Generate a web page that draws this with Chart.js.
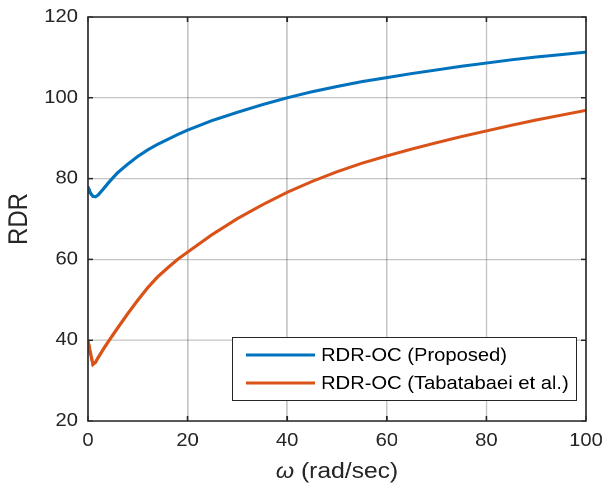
<!DOCTYPE html>
<html>
<head>
<meta charset="utf-8">
<script src="https://cdn.jsdelivr.net/npm/chart.js@4.4.1/dist/chart.umd.min.js"></script>
<style>
  html, body { margin: 0; padding: 0; background: #ffffff; overflow: hidden; }
  #wrap { width: 605px; height: 491px; overflow: hidden; }
  /* the figure is laid out on a 540px-wide canvas and widened to 605px */
  #c { transform: scaleX(1.1204); transform-origin: 0 0; display: block; }
</style>
</head>
<body>
<div id="wrap"><canvas id="c" width="540" height="491"></canvas></div>
<script>
// angular frequency samples (rad/sec)
const omega = [0, 0.5, 1, 1.5, 2, 3, 4, 5, 6, 8, 10, 12, 14, 16, 18, 20, 25, 30, 35, 40, 45, 50, 55, 60, 65, 70, 75, 80, 85, 90, 95, 100];

// RDR of the proposed overcurrent scheme
const rdrProposed = [78, 76.4, 75.6, 75.5, 75.9, 77.3, 78.8, 80.2, 81.5, 83.6, 85.5, 87.1, 88.5, 89.7, 90.9, 92, 94.4, 96.4, 98.3, 100, 101.5, 102.8, 104, 105, 106, 106.9, 107.8, 108.6, 109.4, 110.1, 110.7, 111.3];

// RDR of the reference scheme (Tabatabaei et al.)
const rdrTabatabaei = [40, 36.8, 34, 34.5, 35.6, 37.6, 39.5, 41.3, 43.1, 46.6, 49.9, 53, 55.7, 57.9, 60, 61.8, 66.2, 70.1, 73.5, 76.6, 79.3, 81.7, 83.8, 85.6, 87.3, 88.9, 90.4, 91.8, 93.2, 94.5, 95.7, 96.9];

const seriesLabels = ['RDR-OC (Proposed)', 'RDR-OC (Tabatabaei et al.)'];
const xTicks = [0, 20, 40, 60, 80, 100];
const yTicks = [20, 40, 60, 80, 100, 120];
const xTitleSymbol = 'ω';
const xTitleUnit = ' (rad/sec)';

const FONT = '"Liberation Sans", Arial, Helvetica, sans-serif';
const INK = '#262626';

const toPoints = ys => omega.map((x, i) => ({ x: x, y: ys[i] }));

// box frame, inward tick marks, x-axis title and the legend panel
const framePlugin = {
  id: 'frame',
  afterDraw(chart) {
    const ctx = chart.ctx;
    const a = chart.chartArea;
    const xs = chart.scales.x, ys = chart.scales.y;
    ctx.save();
    ctx.strokeStyle = INK;
    ctx.lineWidth = 1.5;
    ctx.strokeRect(a.left, a.top, a.right - a.left, a.bottom - a.top);
    ctx.beginPath();
    xTicks.forEach(v => {
      const px = xs.getPixelForValue(v);
      ctx.moveTo(px, a.bottom); ctx.lineTo(px, a.bottom - 5);
      ctx.moveTo(px, a.top); ctx.lineTo(px, a.top + 5);
    });
    yTicks.forEach(v => {
      const py = ys.getPixelForValue(v);
      ctx.moveTo(a.left, py); ctx.lineTo(a.left + 4.5, py);
      ctx.moveTo(a.right, py); ctx.lineTo(a.right - 4.5, py);
    });
    ctx.stroke();

    // x-axis title with an italic omega
    const fSym = 'italic 21px ' + FONT, fUnit = '22px ' + FONT;
    ctx.font = fSym; const w1 = ctx.measureText(xTitleSymbol).width;
    ctx.font = fUnit; const w2 = ctx.measureText(xTitleUnit).width;
    const tx = (a.left + a.right) / 2 - (w1 + w2) / 2, ty = 472;
    ctx.fillStyle = INK;
    ctx.textBaseline = 'middle';
    ctx.textAlign = 'left';
    ctx.font = fSym; ctx.fillText(xTitleSymbol, tx, ty);
    ctx.font = fUnit; ctx.fillText(xTitleUnit, tx + w1, ty);

    // legend panel, anchored to the lower right corner of the plot
    const boxR = a.right - 8, boxB = a.bottom - 20;
    const boxL = boxR - 308, boxT = boxB - 64;
    ctx.fillStyle = '#ffffff';
    ctx.fillRect(boxL, boxT, boxR - boxL, boxB - boxT);
    ctx.lineWidth = 1;
    ctx.strokeStyle = INK;
    ctx.strokeRect(boxL + 0.5, boxT + 0.5, boxR - boxL - 1, boxB - boxT - 1);
    ctx.font = '18px ' + FONT;
    chart.data.datasets.forEach((ds, i) => {
      const yy = boxT + 18 + i * 28;
      ctx.strokeStyle = ds.borderColor;
      ctx.lineWidth = 3;
      ctx.beginPath();
      ctx.moveTo(boxL + 12.5, yy);
      ctx.lineTo(boxL + 74, yy);
      ctx.stroke();
      ctx.fillStyle = '#000000';
      ctx.fillText(ds.label, boxL + 79.5, yy + 1);
    });
    ctx.restore();
  }
};

new Chart(document.getElementById('c'), {
  type: 'line',
  data: {
    datasets: [
      { label: seriesLabels[0], data: toPoints(rdrProposed), borderColor: '#0072BD', borderWidth: 3, pointRadius: 0, tension: 0, fill: false },
      { label: seriesLabels[1], data: toPoints(rdrTabatabaei), borderColor: '#D95319', borderWidth: 3, pointRadius: 0, tension: 0, fill: false }
    ]
  },
  options: {
    responsive: false,
    animation: false,
    devicePixelRatio: 2,
    events: [],
    layout: { padding: { left: 0, top: 17, right: 17, bottom: 0 } },
    plugins: { legend: { display: false }, tooltip: { enabled: false } },
    scales: {
      x: {
        type: 'linear',
        min: 0, max: 100,
        afterBuildTicks: s => { s.ticks = xTicks.map(v => ({ value: v })); },
        afterFit: s => { s.height = 70; s.paddingLeft = 0; s.paddingRight = 0; },
        grid: { color: 'rgba(38,38,38,0.27)', lineWidth: 1.3, drawTicks: false },
        border: { display: false },
        ticks: { padding: 9, color: INK, font: { family: FONT, size: 18 } },
        title: { display: false }
      },
      y: {
        min: 20, max: 120,
        afterBuildTicks: s => { s.ticks = yTicks.map(v => ({ value: v })); },
        afterFit: s => { s.width = 78.5; s.paddingTop = 0; s.paddingBottom = 0; },
        grid: { color: 'rgba(38,38,38,0.27)', lineWidth: 1.3, drawTicks: false },
        border: { display: false },
        ticks: { padding: 9, color: INK, font: { family: FONT, size: 18 } },
        title: { display: true, text: 'RDR', color: INK, font: { family: FONT, size: 24 }, padding: { top: 3, bottom: 0 } }
      }
    }
  },
  plugins: [framePlugin]
});
</script>
</body>
</html>
